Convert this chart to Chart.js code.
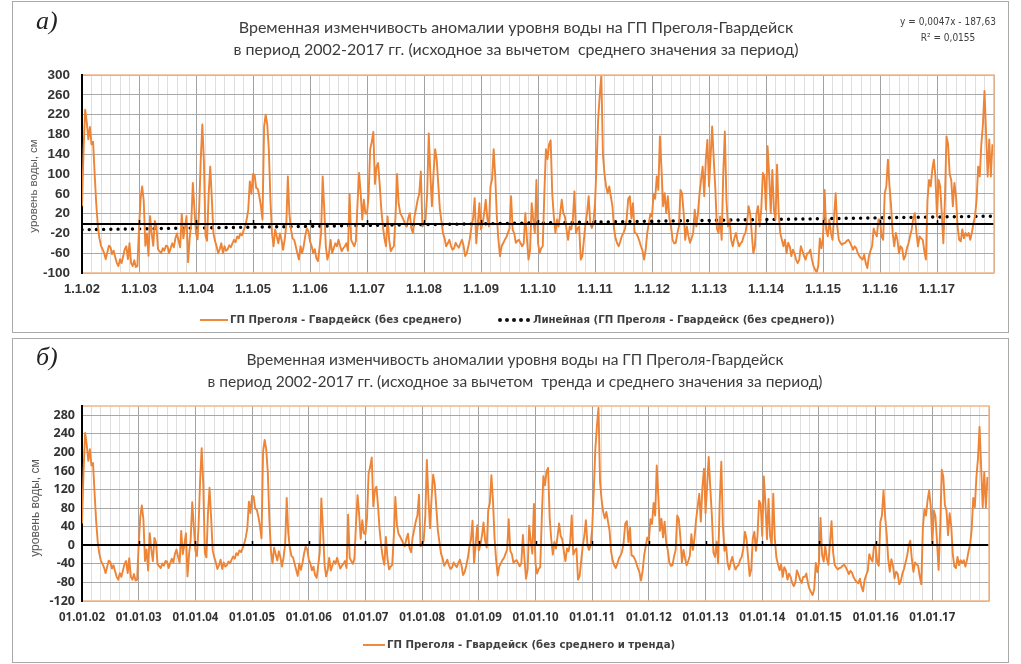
<!DOCTYPE html>
<html lang="ru">
<head>
<meta charset="utf-8">
<title>Аномалии уровня воды ГП Преголя-Гвардейск</title>
<script src="https://cdn.jsdelivr.net/npm/chart.js@4.4.1/dist/chart.umd.min.js"></script>
<style>
  html, body { margin: 0; padding: 0; background: #fff; }
  #page { position: relative; width: 1021px; height: 664px; overflow: hidden; background: #fff; }
  .frame { position: absolute; border: 1px solid #a9a9a9; box-sizing: border-box; }
  .wrap { position: absolute; left: 0; width: 1021px; }
  .txt { position: absolute; white-space: nowrap; color: #404040; }
  .letter { font-family: 'Liberation Serif', 'DejaVu Serif', serif; font-style: italic; font-size: 26px; color: #222; }
  .title { font-family: Lato, 'Open Sans', sans-serif; font-size: 16px; line-height: 22px; text-align: center; color: #3c3c3c; }
  .eq { font-family: 'DejaVu Sans Condensed', 'Liberation Sans', sans-serif; font-size: 10px; line-height: 16px; text-align: center; }
  .leg { font-family: 'DejaVu Sans Condensed', 'Liberation Sans', sans-serif; font-size: 11.3px; line-height: 14px; font-weight: bold; color: #404040; }
  .swatch { position: absolute; height: 2px; background: #ee8a3c; }
  .dot { position: absolute; width: 4px; height: 4px; border-radius: 50%; background: #111; }
  .ytitle { font-family: 'Liberation Sans', Arial, sans-serif; color: #595959; transform: translate(-50%, -50%) rotate(-90deg); }
</style>
</head>
<body>
<div id="page">
  <div class="frame" style="left:12px; top:1px; width:997px; height:332px;"></div>
  <div class="frame" style="left:12px; top:338px; width:997px; height:325px;"></div>

  <div class="wrap" style="top:0; height:333px;"><canvas id="chartA" width="1021" height="333"></canvas></div>
  <div class="wrap" style="top:338px; height:324px;"><canvas id="chartB" width="1021" height="324"></canvas></div>

  <!-- panel а -->
  <div class="txt letter" style="left:36px; top:6px;">а)</div>
  <div class="txt title" style="left:116px; top:16px; width:800px;">Временная изменчивость аномалии уровня воды на ГП Преголя-Гвардейск<br>в период 2002-2017 гг. (исходное за вычетом&nbsp; среднего значения за период)</div>
  <div class="txt eq" style="left:888px; top:14px; width:120px;">y = 0,0047x - 187,63<br>R² = 0,0155</div>
  <div class="txt ytitle" style="left:33px; top:186px; font-size:11.5px;">уровень воды, см</div>
  <div class="swatch" style="left:200px; top:319px; width:28px;"></div>
  <div class="txt leg" style="left:230px; top:313px;">ГП Преголя - Гвардейск (без среднего)</div>
  <div class="dot" style="left:498px; top:318px;"></div>
  <div class="dot" style="left:505px; top:318px;"></div>
  <div class="dot" style="left:512px; top:318px;"></div>
  <div class="dot" style="left:519px; top:318px;"></div>
  <div class="dot" style="left:526px; top:318px;"></div>
  <div class="txt leg" style="left:533px; top:313px;">Линейная (ГП Преголя - Гвардейск (без среднего))</div>

  <!-- panel б -->
  <div class="txt letter" style="left:36px; top:342px;">б)</div>
  <div class="txt title" style="left:115px; top:348px; width:800px; font-size:15.5px;">Временная изменчивость аномалии уровня воды на ГП Преголя-Гвардейск<br>в период 2002-2017 гг. (исходное за вычетом&nbsp; тренда и среднего значения за период)</div>
  <div class="txt ytitle" style="left:35px; top:508px; font-size:12px;">уровень воды, см</div>
  <div class="swatch" style="left:363px; top:644px; width:22px;"></div>
  <div class="txt leg" style="left:387px; top:638px;">ГП Преголя - Гвардейск (без среднего и тренда)</div>
</div>

<script>
// Regular sampling: 36 readings per year, first reading on 1 January 2002.
const SAMPLES_PER_YEAR = 36;
const YEARS = 16;

// Water level anomaly, cm (series minus the 2002-2017 mean), one row per year.
const levelMinusMean = [
  35, 150, 230, 205, 170, 195, 160, 165, 100, 40, -5, -30, -45, -52, -60, -72, -58, -45, -48, -62, -55, -68, -80, -86, -72, -80, -66, -52, -46, -72, -40, -80, -86, -74, -88, -86,
  -10, 50, 75, 45, -45, -20, -65, 15, -20, -45, 5, -5, -52, -56, -60, -50, -55, -45, -46, -60, -50, -40, -48, -30, -20, -35, -48, 20, -30, -10, 15, -78, -30, 0, 82, 30,
  -20, -32, 30, 130, 200, 125, -25, -35, 60, 115, 50, -20, -35, -46, -60, -52, -40, -60, -46, -55, -52, -44, -48, -40, -33, -38, -26, -30, -20, -24, -15, -6, 8, 28, 85, 60,
  100, 98, 72, 70, 55, 35, 8, 195, 220, 200, 150, 48, -20, -46, -12, -26, -40, -20, -33, -53, -33, -5, 95, 20, -12, -30, -33, -46, -60, -73, -46, -60, -46, -25, -10, -15,
  -36, -45, -60, -52, -70, -76, -50, -20, 95, 30, -46, -73, -60, -33, -60, -50, -40, -46, -33, -45, -56, -50, -46, -40, -55, 60, -33, -40, -46, -35, 40, 102, 61, 8, 48, 20,
  20, 55, 150, 165, 185, 80, 115, 122, 80, 30, -5, -30, -46, 14, -33, -56, -50, -46, 14, 100, 40, 21, 15, 8, 0, -6, 10, 21, -10, -19, 14, 30, 48, 60, 105, -6,
  0, 8, 60, 182, 100, 35, 100, 150, 130, 80, 30, 5, -20, -30, -46, -40, -33, -45, -53, -50, -39, -45, -49, -40, -33, -45, -66, -60, -46, -30, -6, 10, 51, -40, 0, 41,
  -12, 0, 20, 48, 10, -6, 75, 90, 150, 95, 14, -33, -66, -46, -40, -33, -28, -19, -10, 55, -13, -20, -39, -35, -33, -40, -46, -40, 21, -30, -73, -53, 41, 8, -19, 88,
  -39, -60, -50, -46, 60, 150, 130, 160, 168, 60, 14, -19, 8, -6, 20, 48, 21, 14, -12, -33, -6, -12, 8, 65, -19, -10, -6, -73, -66, -33, 0, 21, 55, 1, -9, 1,
  40, 120, 210, 260, 299, 140, 100, 75, 61, 75, 55, 35, -10, -30, -40, -46, -36, -25, -19, -10, 10, 50, 55, 10, 41, -19, -20, -26, -35, -46, -55, -73, -53, -19, 1, 20,
  14, 60, 50, 95, 68, 176, 110, 35, 61, 21, 55, 10, -6, -33, -40, -39, -20, -6, 68, 61, 21, -33, -6, -25, -39, -30, -19, 28, -6, 20, 60, 88, 115, 55, 129, 169,
  75, 135, 196, 130, 70, -10, -19, 14, -33, 100, 186, 48, -6, 8, -33, -46, -30, -19, -35, -46, -40, -36, -25, -19, 0, 35, 20, -20, -60, -46, 21, 35, -6, 28, 102, 95,
  28, 156, 98, 21, 108, 28, 8, 119, 21, -19, -33, -46, -33, -60, -39, -46, -66, -53, -60, -73, -80, -73, -46, -55, -66, -73, -60, -60, -53, -73, -86, -93, -99, -86, -30, -50,
  -30, 68, -12, -26, 8, -19, -33, 14, 61, -6, -33, -39, -43, -40, -39, -35, -33, -38, -45, -53, -46, -50, -60, -66, -70, -73, -63, -80, -90, -66, -55, -46, -10, -20, -26, 8,
  8, -26, -33, 61, 75, 129, 75, 35, -19, -46, -19, -33, -60, -46, -50, -73, -66, -50, -40, -26, -12, 10, 21, -19, -46, -26, -30, -33, -56, -73, 48, 88, 75, 108, 129, 95,
  14, 88, 75, 20, -40, 48, 176, 160, 100, 88, 35, 82, 55, -6, -33, -36, -12, -30, -19, -25, -19, -33, -19, 0, 14, 48, 115, 95, 160, 200, 268, 182, 95, 170, 95, 160
];

// Water level anomaly, cm, with both the linear trend and the mean removed.
const levelMinusTrend = [
  47, 162, 242, 217, 182, 207, 172, 177, 112, 52, 7, -18, -33, -40, -48, -60, -46, -33, -36, -50, -43, -56, -68, -74, -60, -68, -54, -40, -34, -60, -28, -68, -74, -62, -76, -74,
  1, 61, 86, 56, -34, -9, -54, 26, -9, -34, 16, 6, -41, -45, -49, -39, -44, -34, -35, -49, -39, -29, -37, -19, -9, -24, -37, 31, -19, 1, 26, -67, -19, 11, 93, 41,
  -11, -23, 39, 139, 209, 134, -16, -26, 69, 124, 59, -11, -26, -37, -51, -43, -31, -51, -37, -46, -43, -35, -39, -31, -24, -29, -17, -21, -11, -15, -6, 3, 17, 37, 94, 69,
  107, 105, 79, 77, 62, 42, 15, 202, 227, 207, 157, 55, -13, -39, -5, -19, -33, -13, -26, -46, -26, 2, 102, 27, -5, -23, -26, -39, -53, -66, -39, -53, -39, -18, -3, -8,
  -30, -39, -54, -46, -64, -70, -44, -14, 101, 36, -40, -67, -54, -27, -54, -44, -34, -40, -27, -39, -50, -44, -40, -34, -49, 66, -27, -34, -40, -29, 46, 108, 67, 14, 54, 26,
  24, 59, 154, 169, 189, 84, 119, 126, 84, 34, -1, -26, -42, 18, -29, -52, -46, -42, 18, 104, 44, 25, 19, 12, 4, -2, 14, 25, -6, -15, 18, 34, 52, 64, 109, -2,
  2, 10, 62, 184, 102, 37, 102, 152, 132, 82, 32, 7, -18, -28, -44, -38, -31, -43, -51, -48, -37, -43, -47, -38, -31, -43, -64, -58, -44, -28, -4, 12, 53, -38, 2, 43,
  -11, 1, 21, 49, 11, -5, 76, 91, 151, 96, 15, -32, -65, -45, -39, -32, -27, -18, -9, 56, -12, -19, -38, -34, -32, -39, -45, -39, 22, -29, -72, -52, 42, 9, -18, 89,
  -40, -61, -51, -47, 59, 149, 129, 159, 167, 59, 13, -20, 7, -7, 19, 47, 20, 13, -13, -34, -7, -13, 7, 64, -20, -11, -7, -74, -67, -34, -1, 20, 54, 0, -10, 0,
  37, 117, 207, 257, 296, 137, 97, 72, 58, 72, 52, 32, -13, -33, -43, -49, -39, -28, -22, -13, 7, 47, 52, 7, 38, -22, -23, -29, -38, -49, -58, -76, -56, -22, -2, 17,
  10, 56, 46, 91, 64, 172, 106, 31, 57, 17, 51, 6, -10, -37, -44, -43, -24, -10, 64, 57, 17, -37, -10, -29, -43, -34, -23, 24, -10, 16, 56, 84, 111, 51, 125, 165,
  69, 129, 190, 124, 64, -16, -25, 8, -39, 94, 180, 42, -12, 2, -39, -52, -36, -25, -41, -52, -46, -42, -31, -25, -6, 29, 14, -26, -66, -52, 15, 29, -12, 22, 96, 89,
  20, 148, 90, 13, 100, 20, 0, 111, 13, -27, -41, -54, -41, -68, -47, -54, -74, -61, -68, -81, -88, -81, -54, -63, -74, -81, -68, -68, -61, -81, -94, -101, -107, -94, -38, -58,
  -39, 59, -21, -35, -1, -28, -42, 5, 52, -15, -42, -48, -52, -49, -48, -44, -42, -47, -54, -62, -55, -59, -69, -75, -79, -82, -72, -89, -99, -75, -64, -55, -19, -29, -35, -1,
  -3, -37, -44, 50, 64, 118, 64, 24, -30, -57, -30, -44, -71, -57, -61, -84, -77, -61, -51, -37, -23, -1, 10, -30, -57, -37, -41, -44, -67, -84, 37, 77, 64, 97, 118, 84,
  1, 75, 62, 7, -53, 35, 163, 147, 87, 75, 22, 69, 42, -19, -46, -49, -25, -43, -32, -38, -32, -46, -32, -13, 1, 35, 102, 82, 147, 187, 255, 169, 82, 157, 82, 147
];

// Linear trend y = 0,0047x - 187,63 at 1.1.2002 and at 31.12.2017, cm.
const trendEnds = [-12.5, 14.9];

const yearLabelsA = ['1.1.02', '1.1.03', '1.1.04', '1.1.05', '1.1.06', '1.1.07', '1.1.08', '1.1.09',
                     '1.1.10', '1.1.11', '1.1.12', '1.1.13', '1.1.14', '1.1.15', '1.1.16', '1.1.17'];
const yearLabelsB = ['01.01.02', '01.01.03', '01.01.04', '01.01.05', '01.01.06', '01.01.07', '01.01.08', '01.01.09',
                     '01.01.10', '01.01.11', '01.01.12', '01.01.13', '01.01.14', '01.01.15', '01.01.16', '01.01.17'];
const yTicksA = [-100, -60, -20, 20, 60, 100, 140, 180, 220, 260, 300];
const yTicksB = [-120, -80, -40, 0, 40, 80, 120, 160, 200, 240, 280];

const ORANGE = '#ed8436';
const FRAME_ORANGE = '#f3b58a';

const toPoints = arr => arr.map((v, i) => ({ x: i / SAMPLES_PER_YEAR, y: v }));
const isWhole = v => Math.abs(v - Math.round(v)) < 1e-6;

// Year ticks plus lighter two-month subdivisions.
function timeTicks(scale) {
  const t = [];
  for (let k = 0; k <= YEARS * 6; k++) t.push({ value: k / 6 });
  scale.ticks = t;
}

// Orange plot frame, black zero axis with year marks.
const plotDecor = {
  id: 'plotDecor',
  afterDatasetDraw(chart, args) {
    if (args.index !== 0) return;
    const { ctx, chartArea: a, scales: { x, y } } = chart;
    const y0 = Math.round(y.getPixelForValue(0));
    ctx.save();
    ctx.strokeStyle = '#000';
    ctx.lineWidth = 2;
    ctx.beginPath();
    ctx.moveTo(a.left, y0);
    ctx.lineTo(a.right, y0);
    ctx.stroke();
    ctx.lineWidth = 1.5;
    for (let k = 1; k < YEARS; k++) {
      const px = Math.round(x.getPixelForValue(k)) + 0.5;
      ctx.beginPath();
      ctx.moveTo(px, y0 - 4);
      ctx.lineTo(px, y0 + 1);
      ctx.stroke();
    }
    ctx.restore();
  },
  afterDraw(chart) {
    const { ctx, chartArea: a } = chart;
    ctx.save();
    ctx.strokeStyle = FRAME_ORANGE;
    ctx.lineWidth = 1.5;
    ctx.beginPath();
    ctx.moveTo(a.left + 1, a.top);
    ctx.lineTo(a.right, a.top);
    ctx.lineTo(a.right, a.bottom);
    ctx.lineTo(a.left + 1, a.bottom);
    ctx.stroke();
    ctx.restore();
  }
};

function makeChart(id, cfg) {
  const scales = {
    x: {
      type: 'linear', min: 0, max: YEARS,
      afterBuildTicks: timeTicks,
      afterFit: s => { s.height = cfg.xAxisHeight; },
      border: { display: false },
      grid: {
        drawTicks: false,
        lineWidth: 1,
        color: c => isWhole(c.tick.value) ? '#a3a3a3' : '#dedede'
      },
      ticks: {
        autoSkip: false, maxRotation: 0, minRotation: 0,
        padding: cfg.xPad,
        color: '#333',
        font: cfg.tickFont,
        callback: v => isWhole(v) ? (cfg.yearLabels[Math.round(v)] || '') : ''
      }
    },
    y: {
      min: cfg.yMin, max: cfg.yMax,
      afterBuildTicks: s => { s.ticks = cfg.yTicks.map(v => ({ value: v })); },
      afterFit: s => { s.width = 62; },
      border: { color: '#000', width: 2 },
      grid: { drawTicks: false, color: '#a8a8a8', lineWidth: 1 },
      ticks: { padding: cfg.yPad, color: '#333', font: cfg.yTickFont }
    }
  };
  return new Chart(document.getElementById(id), {
    type: 'line',
    data: { datasets: cfg.datasets },
    options: {
      responsive: false,
      animation: false,
      events: [],
      layout: { padding: cfg.padding },
      elements: { point: { radius: 0 }, line: { tension: 0, borderJoinStyle: 'round' } },
      plugins: { legend: { display: false }, tooltip: { enabled: false }, title: { display: false } },
      scales
    },
    plugins: [plotDecor]
  });
}

makeChart('chartA', {
  padding: { left: 20, top: 75, right: 27, bottom: 0 },
  xAxisHeight: 60, xPad: 9, yPad: 12,
  yMin: -100, yMax: 300, yTicks: yTicksA, yearLabels: yearLabelsA,
  tickFont: { family: "'Liberation Sans', Arial, sans-serif", size: 13, weight: 'bold' },
  yTickFont: { family: "'Liberation Sans', Arial, sans-serif", size: 13.5, weight: 'bold' },
  datasets: [
    { label: 'ГП Преголя - Гвардейск (без среднего)', data: toPoints(levelMinusMean),
      borderColor: ORANGE, borderWidth: 1.9, fill: false },
    { label: 'Линейная (ГП Преголя - Гвардейск (без среднего))',
      data: [{ x: 0, y: trendEnds[0] }, { x: YEARS, y: trendEnds[1] }],
      borderColor: '#000', borderWidth: 3.4, borderDash: [0.01, 7.2], borderCapStyle: 'round', fill: false }
  ]
});

makeChart('chartB', {
  padding: { left: 20, top: 68, right: 32, bottom: 0 },
  xAxisHeight: 61, xPad: 10, yPad: 7,
  yMin: -120, yMax: 300, yTicks: yTicksB, yearLabels: yearLabelsB,
  tickFont: { family: "'Noto Sans', 'Open Sans', sans-serif", size: 11.5, weight: 'bold' },
  yTickFont: { family: "'Noto Sans', 'Open Sans', sans-serif", size: 12.5, weight: 'bold' },
  datasets: [
    { label: 'ГП Преголя - Гвардейск (без среднего и тренда)', data: toPoints(levelMinusTrend),
      borderColor: ORANGE, borderWidth: 1.9, fill: false }
  ]
});
</script>
</body>
</html>
